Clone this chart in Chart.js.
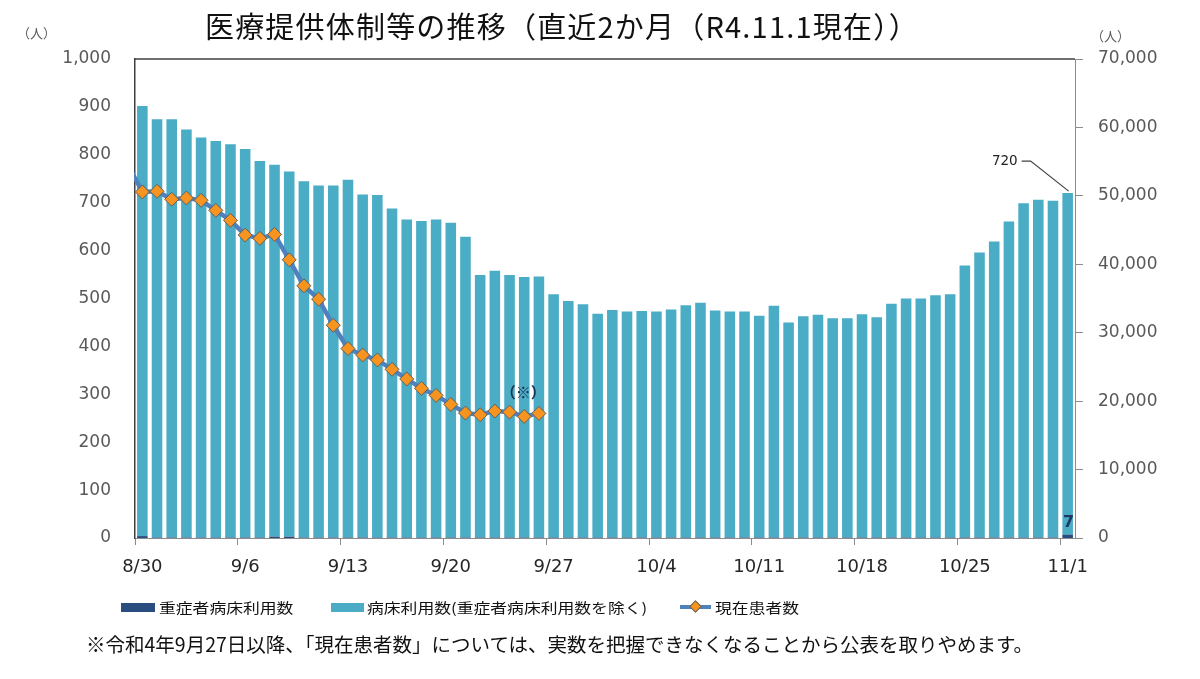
<!DOCTYPE html>
<html lang="ja">
<head>
<meta charset="utf-8">
<title>医療提供体制等の推移</title>
<script src="https://cdn.jsdelivr.net/npm/chart.js@4.4.0/dist/chart.umd.min.js"></script>
<style>
  html, body { margin: 0; padding: 0; background: #fff; }
  #wrap { position: relative; width: 1200px; height: 679px; overflow: hidden; font-family: 'Noto Sans CJK JP', sans-serif; }
  #chart-box { position: absolute; left: 0; top: 0; width: 1200px; height: 679px; }
  .abs { position: absolute; white-space: nowrap; line-height: 1; }
  #title { left: 162px; width: 800px; top: 11px; text-align: center; font-size: 29px; letter-spacing: 1.2px; color: #111; }
  .unit { font-size: 13px; color: #595959; }
  .sw { position: absolute; height: 9px; top: 603px; }
  .leg { top: 600px; font-size: 14px; color: #111; transform: scaleX(1.2); transform-origin: left center; }
  #note { left: 86px; top: 634px; font-size: 19.5px; color: #111; }
</style>
</head>
<body>
<div id="wrap">
  <div id="chart-box"><canvas id="chart"></canvas></div>
  <div id="title" class="abs">医療提供体制等の推移（直近2か月（R4.11.1現在））</div>
  <div class="abs unit" style="left:17px; top:26px;">（人）</div>
  <div class="abs unit" style="left:1091px; top:29px;">（人）</div>

  <div class="sw" style="left:121px; width:34px; background:#2a4d7f;"></div>
  <div class="abs leg" style="left:159px;">重症者病床利用数</div>
  <div class="sw" style="left:331px; width:33px; background:#4bacc6;"></div>
  <div class="abs leg" style="left:367px;">病床利用数(重症者病床利用数を除く)</div>
  <div class="sw" style="left:680px; width:31px; height:4px; top:605px; background:#4f81bd;"></div>
  <div class="sw" style="left:691px; width:7px; height:7px; top:602px; background:#f79420; border:1px solid #5f5f5f; transform:rotate(45deg);"></div>
  <div class="abs leg" style="left:715px;">現在患者数</div>

  <div id="note" class="abs">※令和4年9月27日以降、「現在患者数」については、実数を把握できなくなることから公表を取りやめます。</div>
</div>

<script>
// 日付（8/30〜11/1）
const dates = [
  '8/30', '8/31',
  '9/1', '9/2', '9/3', '9/4', '9/5', '9/6', '9/7', '9/8', '9/9', '9/10',
  '9/11', '9/12', '9/13', '9/14', '9/15', '9/16', '9/17', '9/18', '9/19', '9/20',
  '9/21', '9/22', '9/23', '9/24', '9/25', '9/26', '9/27', '9/28', '9/29', '9/30',
  '10/1', '10/2', '10/3', '10/4', '10/5', '10/6', '10/7', '10/8', '10/9', '10/10',
  '10/11', '10/12', '10/13', '10/14', '10/15', '10/16', '10/17', '10/18', '10/19', '10/20',
  '10/21', '10/22', '10/23', '10/24', '10/25', '10/26', '10/27', '10/28', '10/29', '10/30',
  '10/31', '11/1'
];

// 重症者病床利用数
const severeBeds = [
  4, 1, 1, 1, 1, 1, 1, 1, 1, 3,
  3, 1, 1, 1, 1, 1, 1, 1, 1, 1,
  1, 1, 1, 1, 1, 1, 1, 1, 1, 1,
  1, 1, 1, 1, 1, 1, 1, 1, 1, 1,
  1, 1, 1, 1, 1, 1, 1, 1, 1, 1,
  1, 1, 1, 1, 1, 1, 1, 1, 1, 1,
  1, 1, 1, 7
];

// 病床利用数（重症者病床利用数を除く）
const otherBeds = [
  898, 873, 873, 852, 835, 828, 821, 811, 786, 776,
  762, 744, 735, 735, 747, 716, 715, 687, 664, 661,
  664, 657, 628, 548, 557, 548, 544, 545, 508, 494,
  487, 467, 475, 472, 473, 472, 476, 485, 490, 474,
  472, 472, 463, 484, 449, 462, 465, 458, 458, 466,
  460, 488, 499, 499, 506, 508, 568, 595, 618, 660,
  698, 705, 703, 713
];

// 現在患者数（8/30〜9/26）、8/29は左端で切れている線の続き
const patientsPrevDay = 54600;
const currentPatients = [
  50570, 50670, 49500, 49690, 49350, 47880, 46420, 44270, 43780, 44370,
  40660, 36860, 34900, 31090, 27680, 26750, 26020, 24650, 23240, 21870,
  20840, 19520, 18260, 18010, 18550, 18400, 17770, 18210
];

const leftTicks = { min: 0, max: 1000, step: 100 };
const rightTicks = { min: 0, max: 70000, step: 10000 };
const totalLabel = '720';

const linePoints = [{ x: -1, y: patientsPrevDay }].concat(
  currentPatients.map((v, i) => ({ x: i, y: v }))
);

const fmt = v => Number(v).toLocaleString('en-US');

const extras = {
  id: 'extras',
  afterDatasetsDraw(chart) {
    const { ctx, chartArea } = chart;
    const x = chart.scales.x, y = chart.scales.y, y1 = chart.scales.y1;
    ctx.save();
    // 上枠
    ctx.strokeStyle = '#404040';
    ctx.lineWidth = 1.5;
    ctx.beginPath();
    ctx.moveTo(chartArea.left, chartArea.top);
    ctx.lineTo(chartArea.right, chartArea.top);
    ctx.stroke();

    // 最終日のラベル
    const last = dates.length - 1;
    const xc = x.getPixelForValue(last);
    const top = y.getPixelForValue(severeBeds[last] + otherBeds[last]);
    ctx.strokeStyle = '#404040';
    ctx.lineWidth = 1.2;
    ctx.beginPath();
    ctx.moveTo(xc - 46, top - 32);
    ctx.lineTo(xc - 37, top - 32);
    ctx.lineTo(xc + 1, top - 2);
    ctx.stroke();
    ctx.fillStyle = '#222';
    ctx.font = "13.5px 'DejaVu Sans'";
    ctx.textAlign = 'right';
    ctx.textBaseline = 'middle';
    ctx.fillText(totalLabel, xc - 50, top - 32);

    ctx.fillStyle = '#1f3864';
    ctx.font = "bold 16px 'DejaVu Sans'";
    ctx.textAlign = 'center';
    ctx.fillText(String(severeBeds[last]), xc + 1, y.getPixelForValue(0) - 15);

    // (※)
    const k = currentPatients.length - 2;
    ctx.font = "bold 15px 'Noto Sans CJK JP'";
    ctx.fillStyle = '#1f3050';
    ctx.fillText('（※）', x.getPixelForValue(k) - 1, y1.getPixelForValue(currentPatients[k]) - 24);
    ctx.restore();
  }
};

new Chart(document.getElementById('chart'), {
  type: 'bar',
  data: {
    labels: dates,
    datasets: [
      {
        type: 'line',
        label: '現在患者数',
        data: linePoints,
        xAxisID: 'xl',
        yAxisID: 'y1',
        order: 0,
        borderColor: '#4f81bd',
        borderWidth: 4.5,
        tension: 0,
        pointStyle: 'rectRot',
        pointRadius: ctx => ctx.dataIndex === 0 ? 0 : 7,
        pointBackgroundColor: '#f79420',
        pointBorderColor: '#5f5f5f',
        pointBorderWidth: 1,
        clip: { left: 1, right: false, top: false, bottom: false }
      },
      {
        label: '重症者病床利用数',
        data: severeBeds,
        xAxisID: 'x',
        yAxisID: 'y',
        stack: 'beds',
        grouped: false,
        order: 1,
        backgroundColor: '#2a4d7f',
        barPercentage: 0.72,
        categoryPercentage: 1
      },
      {
        label: '病床利用数(重症者病床利用数を除く)',
        data: otherBeds,
        xAxisID: 'x',
        yAxisID: 'y',
        stack: 'beds',
        grouped: false,
        order: 1,
        backgroundColor: '#4bacc6',
        barPercentage: 0.72,
        categoryPercentage: 1
      }
    ]
  },
  options: {
    responsive: true,
    maintainAspectRatio: false,
    animation: false,
    layout: { padding: { top: 59, left: 0, right: 0, bottom: 0 } },
    plugins: {
      legend: { display: false },
      tooltip: { enabled: false }
    },
    scales: {
      x: {
        stacked: true,
        offset: true,
        afterFit: s => { s.height = 141; },
        grid: {
          display: true,
          offset: true,
          drawOnChartArea: false,
          drawTicks: true,
          tickLength: 7,
          color: c => (c.index % 7 === 0 ? '#8c8c8c' : 'rgba(0,0,0,0)')
        },
        border: { display: true, color: '#8c8c8c', width: 1 },
        ticks: {
          autoSkip: false,
          maxRotation: 0,
          padding: 12,
          color: '#262626',
          font: { family: 'DejaVu Sans', size: 18 },
          callback: (v, i) => (i % 7 === 0 ? dates[i] : '')
        }
      },
      xl: {
        type: 'linear',
        display: false,
        offset: false,
        stacked: false,
        min: -0.5,
        max: dates.length - 0.5
      },
      y: {
        stacked: true,
        position: 'left',
        min: leftTicks.min,
        max: leftTicks.max,
        afterFit: s => { s.width = 135; },
        grid: { display: false, drawTicks: false },
        border: { display: true, color: '#404040', width: 1.5 },
        ticks: {
          stepSize: leftTicks.step,
          padding: 24,
          color: '#595959',
          font: { family: 'DejaVu Sans', size: 17 },
          callback: v => fmt(v)
        }
      },
      y1: {
        position: 'right',
        min: rightTicks.min,
        max: rightTicks.max,
        afterFit: s => { s.width = 125; },
        grid: { drawOnChartArea: false, drawTicks: true, tickLength: 8, color: '#8c8c8c' },
        border: { display: true, color: '#8c8c8c', width: 1 },
        ticks: {
          stepSize: rightTicks.step,
          padding: 15,
          color: '#595959',
          font: { family: 'DejaVu Sans', size: 17 },
          callback: v => fmt(v)
        }
      }
    }
  },
  plugins: [extras]
});
</script>
</body>
</html>
